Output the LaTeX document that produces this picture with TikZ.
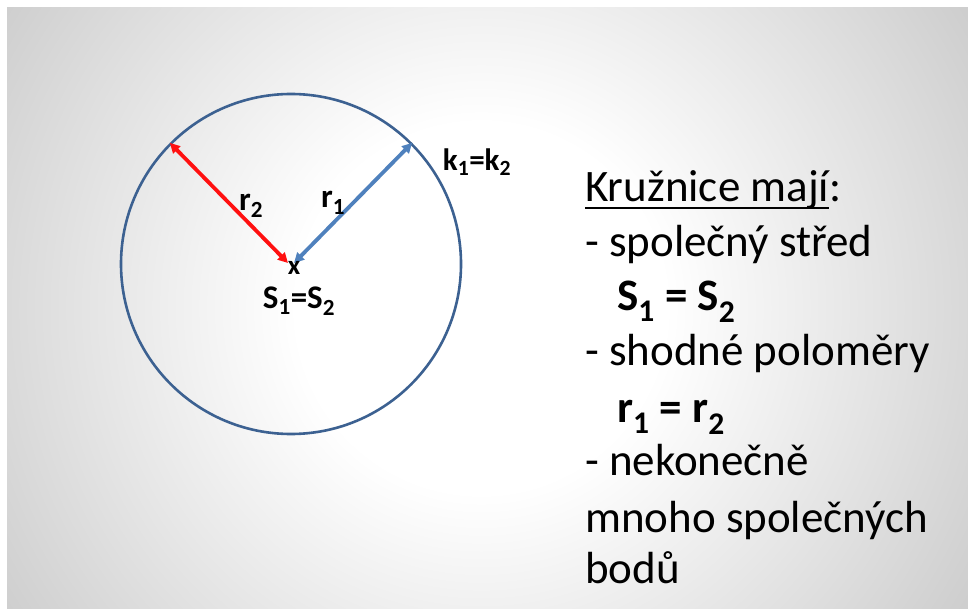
\documentclass[tikz,border=0pt]{standalone}
\usepackage{fontspec}
\setmainfont{Carlito}
\usetikzlibrary{positioning,arrows.meta}
\definecolor{ringblue}{HTML}{3C6191}
\definecolor{radblue}{HTML}{4F81BD}
\definecolor{radred}{HTML}{FF1010}
\definecolor{bgtop}{HTML}{CACACA}
\definecolor{bgmid}{HTML}{AAAAAA}
\definecolor{bgedge}{HTML}{999999}
\pgfdeclareradialshading{slidebg}{\pgfpoint{0bp}{0bp}}{color(0bp)=(white); color(8bp)=(white); color(26bp)=(bgtop); color(42bp)=(bgmid); color(50bp)=(bgedge); color(72bp)=(bgedge)}

\begin{document}
\begin{tikzpicture}[x=1pt, y=-1pt,
    ring/.style={circle, draw=ringblue, line width=2.6pt, minimum size=340pt, inner sep=0pt},
    radius arrow/.style={{Triangle[length=10pt,width=10pt]}-{Triangle[length=10pt,width=10pt]}, line width=3.8pt},
    lab/.style={font=\fontsize{33}{37}\selectfont\bfseries, inner sep=0pt},
    txt/.style={font=\fontsize{45}{54}\selectfont, inner sep=0pt, anchor=base west},
    txtb/.style={txt, font=\fontsize{45}{54}\selectfont\bfseries}
]
\useasboundingbox (0,0) rectangle (968,609);
\fill[white] (0,0) rectangle (968,609);
\begin{scope}
  \clip (7,8) rectangle (968,609);
  \shade[shading=slidebg] (-95,-268) rectangle (1057,884);
\end{scope}

% circle with both radii
\coordinate (S) at (291,264);
\node[ring] (k) at (S) {};
\coordinate (Sr) at (288,263);
\coordinate (Sb) at (294,263);
\draw[radius arrow, radred]  (k.135) -- (Sr);
\draw[radius arrow, radblue] (k.45)  -- (Sb);

\node[lab] (r2)  at (251,206) {r\textsubscript{2}};
\node[lab] (r1)  at (333,203) {r\textsubscript{1}};
\node[lab, font=\fontsize{31}{35}\selectfont\bfseries] (k12) at (477,162) {k\textsubscript{1}=k\textsubscript{2}};
\node[lab, font=\fontsize{27}{30}\selectfont\bfseries] (mark) at (294,268) {x};
\node[lab] (s12) at (299,301) {S\textsubscript{1}=S\textsubscript{2}};

% text on the right
\node[txt] (head) at (585,202) {Kružnice mají};
\node[txt] (colon) at (head.base east) {:};
\draw[line width=2pt] ([yshift=-6pt]head.base west) -- ([yshift=-6pt]head.base east);
\node[txt]  (l2) at (585,257) {- společný střed};
\node[txtb] (l3) at (617,310) {S\textsubscript{1} = S\textsubscript{2}};
\node[txt]  (l4) at (585,365) {- shodné poloměry};
\node[txtb] (l5) at (617,422) {r\textsubscript{1} = r\textsubscript{2}};
\node[txt]  (l6) at (585,475) {- nekonečně};
\node[txt]  (l7) at (585,532) {mnoho společných};
\node[txt]  (l8) at (585,583) {bodů};
\end{tikzpicture}
\end{document}
